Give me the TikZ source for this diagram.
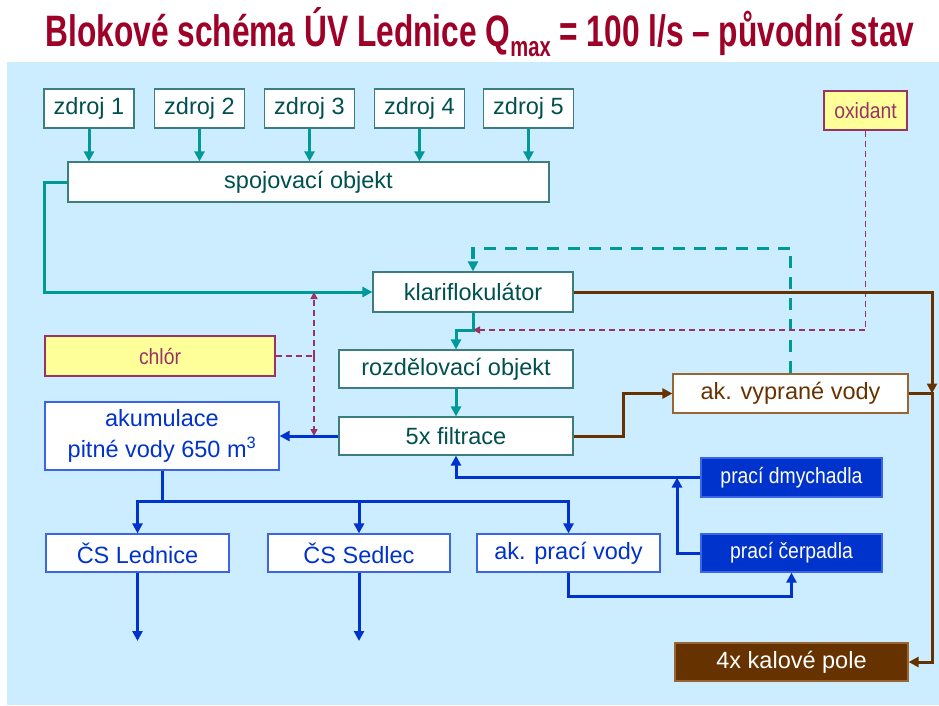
\documentclass[tikz,border=0pt]{standalone}
\usepackage{fontspec}
\setmainfont{Liberation Sans}
\newfontfamily\titlefont{Liberation Sans}
\newfontfamily\narrowfont[FakeStretch=0.88]{Liberation Sans}
\usetikzlibrary{arrows.meta}
\definecolor{bgblue}{RGB}{204,236,255}
\definecolor{tealline}{RGB}{0,153,153}
\definecolor{tealtext}{RGB}{0,80,80}
\definecolor{tealborder}{RGB}{60,125,125}
\definecolor{blueline}{RGB}{0,51,204}
\definecolor{blueborder}{RGB}{60,100,230}
\definecolor{brownline}{RGB}{102,51,0}
\definecolor{brownborder}{RGB}{153,102,51}
\definecolor{purp}{RGB}{153,51,102}
\definecolor{yell}{RGB}{255,255,153}
\definecolor{titlered}{RGB}{158,0,40}
\tikzset{
  basebox/.style={inner sep=0pt, line width=1.2pt, fill=white, font=\fontsize{23.5}{27}\selectfont},
  tealbox/.style={basebox, draw=tealborder, text=tealtext},
  bluebox/.style={basebox, draw=blueborder, text=blueline},
  bluefill/.style={basebox, draw=blueborder, fill=blueline, text=white, font=\narrowfont\fontsize{22}{26}\selectfont},
  brownbox/.style={basebox, draw=brownborder, text=brownline},
  brownfill/.style={basebox, draw=brownborder, fill=brownline, text=white},
  yellbox/.style={basebox, draw=purp, fill=yell, text=purp, font=\narrowfont\fontsize{22}{26}\selectfont},
  tip/.style={-{Triangle[length=10pt,width=10pt]}},
  tealarrow/.style={draw=tealline, line width=3pt},
  tealdashed/.style={draw=tealline, line width=3.5pt, dash pattern=on 12pt off 9pt},
  bluearrow/.style={draw=blueline, line width=3pt},
  brownarrow/.style={draw=brownline, line width=3pt},
  purpdashed/.style={draw=purp, line width=1.6pt, dash pattern=on 6pt off 4pt},
  smalltip/.style={-{Triangle[length=7pt,width=7pt]}},
}
\begin{document}
\begin{tikzpicture}[x=1pt,y=-1pt]
\useasboundingbox (0,0) rectangle (939,705);
\fill[white] (0,0) rectangle (939,705);
\fill[bgblue] (7,62) rectangle (939,705);
\node[text=titlered, inner sep=0pt] (title) at (480,32) {\scalebox{0.72}[1]{\titlefont\bfseries\fontsize{44}{50}\selectfont Blokové schéma ÚV Lednice Q\raisebox{-10pt}{\fontsize{28}{32}\selectfont max} = 100 l/s – původní stav}};

% nodes
\node[tealbox, minimum width=90pt, minimum height=39pt] (z1) at (89,108.5) {zdroj 1};
\node[tealbox, minimum width=90pt, minimum height=39pt] (z2) at (199.5,108.5) {zdroj 2};
\node[tealbox, minimum width=90pt, minimum height=39pt] (z3) at (309.5,108.5) {zdroj 3};
\node[tealbox, minimum width=90pt, minimum height=39pt] (z4) at (419.5,108.5) {zdroj 4};
\node[tealbox, minimum width=90pt, minimum height=39pt] (z5) at (528.5,108.5) {zdroj 5};
\node[tealbox, minimum width=481pt, minimum height=40pt] (spoj) at (308.5,182) {spojovací objekt};
\node[yellbox, minimum width=83pt, minimum height=39pt] (oxid) at (865.5,110.5) {oxidant};
\node[tealbox, minimum width=200pt, minimum height=40pt] (klar) at (473,292) {klariflokulátor};
\node[yellbox, minimum width=230pt, minimum height=40pt] (chlor) at (160,356) {chlór};
\node[tealbox, minimum width=234pt, minimum height=38pt] (rozd) at (456,369) {rozdělovací objekt};
\node[tealbox, minimum width=234pt, minimum height=38pt] (filt) at (456,436) {5x filtrace};
\node[bluebox, minimum width=234pt, minimum height=68pt, align=center] (akum) at (162,436) {akumulace\\[4pt]pitné vody 650 m\textsuperscript{3}};
\node[brownbox, minimum width=235pt, minimum height=39pt] (vypr) at (790.5,393.5) {ak. vyprané vody};
\node[bluefill, minimum width=181pt, minimum height=39pt] (dmych) at (791.5,477.5) {prací dmychadla};
\node[bluefill, minimum width=181pt, minimum height=38pt] (cerp) at (791.5,553) {prací čerpadla};
\node[bluebox, minimum width=183pt, minimum height=38pt] (lednice) at (137.5,553) {ČS Lednice};
\node[bluebox, minimum width=182pt, minimum height=38pt] (sedlec) at (359,553) {ČS Sedlec};
\node[bluebox, minimum width=183pt, minimum height=38pt] (akprac) at (568.5,553) {ak. prací vody};
\node[brownfill, minimum width=233pt, minimum height=38pt] (kal) at (791.5,662) {4x kalové pole};

% coordinates
\coordinate (kr) at (473,330);
\coordinate (bj) at (932,393.5);
\coordinate (cj) at (314,356);
\coordinate (cu) at (314,292);
\coordinate (cd) at (314,436);
\coordinate (bsplit) at (162,501);
\coordinate (dj) at (677,477.5);
\coordinate (lout) at (137.5,641);
\coordinate (sout) at (359,641);

% teal connectors
\foreach \z in {z1,z2,z3,z4,z5}
  \draw[tealarrow, tip] (\z.south) -- (\z.south |- spoj.north);
\draw[tealarrow, tip] (spoj.west) -- ++(-23,0) |- (klar.west);
\draw[tealdashed, tip] (vypr.north) -- ++(0,-125) -| (klar.north);
\draw[tealarrow, tip] (klar.south) -- (kr) -| (rozd.north);
\draw[tealarrow, tip] (rozd.south) -- (filt.north);

% purple dashed
\draw[purpdashed, smalltip] (oxid.south) |- (kr);
\draw[purpdashed] (chlor.east) -- (cj);
\draw[purpdashed, smalltip] (cj) -- (cu);
\draw[purpdashed, smalltip] (cj) -- (cd);

% brown
\draw[brownarrow, tip] (klar.east) -| (bj);
\draw[brownarrow, tip] (vypr.east) -- (bj) |- (kal.east);
\draw[brownarrow, tip] (filt.east) -- ++(50,0) |- (vypr.west);

% blue
\draw[bluearrow, tip] (filt.west) -- (akum.east);
\draw[bluearrow] (akum.south) -- (bsplit);
\draw[bluearrow, tip] (bsplit) -| (lednice.north);
\draw[bluearrow, tip] (bsplit) -| (sedlec.north);
\draw[bluearrow, tip] (bsplit) -| (akprac.north);
\draw[bluearrow, tip] (lednice.south) -- (lout);
\draw[bluearrow, tip] (sedlec.south) -- (sout);
\draw[bluearrow, tip] (akprac.south) -- ++(0,24) -| (cerp.south);
\draw[bluearrow, tip] (cerp.west) -| (dj);
\draw[bluearrow, tip] (dmych.west) -| (filt.south);
\end{tikzpicture}
\end{document}
